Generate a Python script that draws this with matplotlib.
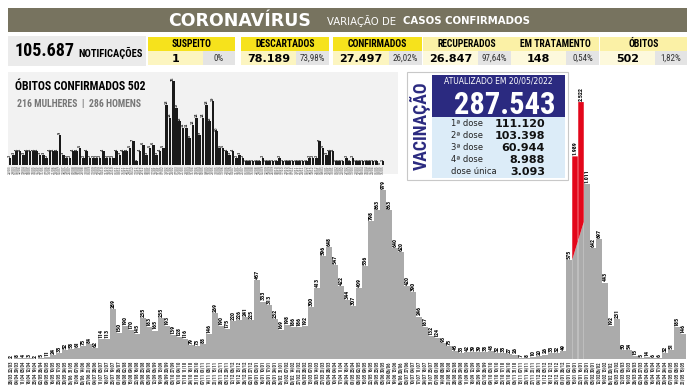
import numpy as np
import pandas as pd
import matplotlib
matplotlib.use("Agg")
import matplotlib.pyplot as plt
from matplotlib import font_manager as fm
from matplotlib.patches import Rectangle

W, H = 696, 385

# casos confirmados por semana
casos = [2, 8, 4, 3, 2, 5, 11, 24, 35, 52, 58, 61, 75, 84, 62, 114, 113,
         289, 150, 190, 170, 145, 235, 183, 165, 235, 193,
         139, 128, 116, 79, 73, 88, 146, 269, 190, 175, 220, 226, 241, 225,
         457, 333, 313, 232, 169, 198, 186, 186, 192, 300, 413, 596, 648,
         547, 422, 344, 307, 409, 536, 798, 863, 979, 863, 640, 620, 420,
         390, 246, 187, 132, 124, 95, 75, 45, 33, 42,
         39, 39, 38, 48, 32, 35, 27, 26, 7, 8, 10, 20, 26, 33, 32, 49,
         575, 1989, 2522, 1011, 642, 697, 443, 192, 231, 50, 54, 15, 5, 14,
         6, 6, 32, 51, 185, 146]

# obitos por semana
obitos = [2, 3, 4, 4, 3, 4, 4, 4, 4, 3, 3, 2, 4, 4, 4, 9, 3, 2, 2, 4,
          4, 5, 2, 4, 2, 2, 2, 2, 4, 2, 2, 2, 4, 3, 4, 4, 5, 7, 1, 4,
          6, 3, 5, 6, 3, 4, 5, 18, 14, 25, 17,
          13, 11, 11, 8, 12, 14, 9, 14, 18, 13, 19, 10, 5, 5, 4, 3, 4, 2, 3, 2,
          1, 1, 1, 1, 1, 2, 1, 1, 1, 1, 2, 1, 1, 1, 1, 1, 1, 1, 1, 2,
          2, 2, 7, 5, 3, 4, 4, 1, 1, 1, 2, 1, 2, 1, 1, 1, 1, 1, 1, 1, 0, 1]

inicio_semanas = "2020-03-22"

rotulos = ["SUSPEITO", "DESCARTADOS", "CONFIRMADOS", "RECUPERADOS", "EM TRATAMENTO", "ÓBITOS"]
numeros = ["1", "78.189", "27.497", "26.847", "148", "502"]
percentuais = ["0%", "73,98%", "26,02%", "97,64%", "0,54%", "1,82%"]

doses = ["1ª dose", "2ª dose", "3ª dose", "4ª dose", "dose única"]
doses_valor = ["111.120", "103.398", "60.944", "8.988", "3.093"]

CINZA = "#ababab"
VERMELHO = "#e3061a"
AZUL = "#2b2a80"
AZUL_CLARO = "#dcecf8"
OLIVA = "#77735f"
AMARELO = "#f6e21c"
AMARELO_CLARO = "#fbf1a6"
CREME = "#fcf5c0"
CINZA_CLARO = "#e4e4e4"
PAINEL = "#f2f2f2"

CORTE = 1500
ESCALA_QUEBRA = 0.59


def fonte_estreita():
    fontes = fm.fontManager.ttflist
    nomes = {f.name for f in fontes}
    for nome in ["Liberation Sans Narrow", "Roboto Condensed", "Open Sans Condensed",
                 "Noto Sans Condensed", "DejaVu Sans Condensed"]:
        if nome in nomes:
            return {"family": nome}
    for nome in ["Noto Sans", "DejaVu Sans", "Open Sans"]:
        for f in fontes:
            if f.name == nome and f.stretch in ("condensed", "extra-condensed", "semi-condensed"):
                return {"family": nome, "stretch": f.stretch}
    return {"family": "DejaVu Sans"}


NARROW = fonte_estreita()


def milhar(v):
    return f"{v:,}".replace(",", ".")


semanas = pd.date_range(inicio_semanas, periods=len(casos), freq="7D")

fig = plt.figure(figsize=(W / 100, H / 100), dpi=100)
fig.patch.set_facecolor("white")

# ---- grafico principal (casos) ----
X0, PASSO = 11, 6.0
BASE, TOPO = 359, 100
ax = fig.add_axes([0, (H - BASE) / H, 1, (BASE - TOPO) / H], zorder=0)
ax.set_xlim(-X0 / PASSO, (W - X0) / PASSO)
ax.set_ylim(0, CORTE)
ax.axis("off")

idx = np.arange(len(casos))
valores = np.array(casos, float)
alto = np.where(valores > CORTE, valores * ESCALA_QUEBRA, valores)
quebra = valores > CORTE

ax.bar(idx[~quebra], alto[~quebra], width=0.92, color=CINZA, lw=0)

qi = idx[quebra]
c0 = casos[qi[0] - 1]
c1 = (casos[qi[0] - 1] + casos[qi[-1] + 1]) / 2
for i in qi:
    xa, xb = i - 0.46, i + 0.46
    ya = np.interp(xa, [qi[0] - 0.46, qi[-1] + 0.46], [c0, c1])
    yb = np.interp(xb, [qi[0] - 0.46, qi[-1] + 0.46], [c0, c1])
    ax.fill([xa, xb, xb, xa], [0, 0, yb, ya], color=CINZA, lw=0)
    ax.fill([xa, xb, xb, xa], [ya, yb, alto[i], alto[i]], color=VERMELHO, lw=0)

for i, v in enumerate(casos):
    ax.text(i, alto[i] + 6, milhar(v), rotation=90, ha="center", va="bottom",
            fontsize=4.3, fontweight="bold", clip_on=False,
            bbox=dict(fc="white", ec="none", pad=0.3), **NARROW)

tx = ax.get_xaxis_transform()
altura_eixo = BASE - TOPO
for i, d in enumerate(semanas):
    fim = d + pd.Timedelta(days=6)
    ax.text(i, -2 / altura_eixo, d.strftime("%d/%m"), transform=tx, rotation=90,
            ha="center", va="top", fontsize=3.4, fontweight="bold", color="#333333",
            clip_on=False, **NARROW)
    ax.text(i, -14 / altura_eixo, fim.strftime("%d/%m"), transform=tx, rotation=90,
            ha="center", va="top", fontsize=3.4, fontweight="bold", color="#333333",
            clip_on=False, **NARROW)

# ---- camada de textos e caixas ----
ov = fig.add_axes([0, 0, 1, 1], zorder=1)
ov.set_xlim(0, W)
ov.set_ylim(H, 0)
ov.axis("off")

ov.add_patch(Rectangle((8, 8), 679, 24, color=OLIVA, lw=0))
ov.text(240, 20.5, "CORONAVÍRUS", color="white", fontsize=12.5, fontweight="bold",
        ha="center", va="center")
ov.text(327, 21, "VARIAÇÃO DE", color="white", fontsize=7.3, ha="left", va="center")
ov.text(403, 21, "CASOS CONFIRMADOS", color="white", fontsize=7.3, fontweight="bold",
        ha="left", va="center")

ov.add_patch(Rectangle((8, 36), 138, 30, color="#ebebeb", lw=0))
ov.text(15, 51.5, "105.687", fontsize=13, fontweight="bold", ha="left", va="center", **NARROW)
ov.text(78, 52.5, "NOTIFICAÇÕES", fontsize=7.6, fontweight="bold", ha="left", va="center", **NARROW)

caixa_x = [148, 241, 333, 423, 511, 600]
caixa_w = [87, 88, 89, 88, 88, 87]
for k in range(len(rotulos)):
    x0, w = caixa_x[k], caixa_w[k]
    cab = AMARELO if k < 3 else AMARELO_CLARO
    ov.add_patch(Rectangle((x0, 37), w, 13.5, color=cab, lw=0))
    ov.text(x0 + w / 2, 44, rotulos[k], fontsize=7, fontweight="bold",
            ha="center", va="center", **NARROW)
    wv = w * 0.63
    ov.add_patch(Rectangle((x0, 51), wv, 14, color=CREME if k < 3 else "#fdf9dc", lw=0))
    ov.add_patch(Rectangle((x0 + wv, 51), w - wv, 14, color=CINZA_CLARO, lw=0))
    ov.text(x0 + wv / 2, 58.5, numeros[k], fontsize=8, fontweight="bold",
            ha="center", va="center")
    ov.text(x0 + wv + (w - wv) / 2, 58.5, percentuais[k], fontsize=6.5,
            ha="center", va="center", color="#333333", **NARROW)

# painel de obitos
ov.add_patch(Rectangle((8, 72), 390, 102, color=PAINEL, lw=0))
ov.text(15, 87, "ÓBITOS CONFIRMADOS 502", fontsize=8.5, fontweight="bold",
        ha="left", va="center", **NARROW)
ov.text(17, 104, "216 MULHERES  |  286 HOMENS", fontsize=7, fontweight="bold",
        color="#777777", ha="left", va="center", **NARROW)

# vacinacao
ov.add_patch(Rectangle((407, 72), 161, 108, fc="white", ec="#c8c8c8", lw=0.8))
ov.add_patch(Rectangle((432, 75), 133, 42, color=AZUL, lw=0))
ov.add_patch(Rectangle((432, 117), 133, 61, color=AZUL_CLARO, lw=0))
ov.text(420, 126, "VACINAÇÃO", rotation=90, fontsize=12.8, fontweight="bold",
        color=AZUL, ha="center", va="center", **NARROW)
ov.text(498, 81, "ATUALIZADO EM 20/05/2022", color="white", fontsize=5.5,
        ha="center", va="center")
ov.text(505, 113.5, "287.543", color="white", fontsize=22, fontweight="bold",
        ha="center", va="baseline", **NARROW)
for k in range(len(doses)):
    y = 124 + k * 11.9
    ov.text(451, y, doses[k], fontsize=6, color="#222222", ha="left", va="center")
    ov.text(545, y, doses_valor[k], fontsize=8, fontweight="bold", color="#111111",
            ha="right", va="center")

# ---- grafico de obitos ----
OX0, OPASSO = 10, 3.33
OBASE, OTOPO = 164.5, 72
ax2 = fig.add_axes([0, (H - OBASE) / H, 1, (OBASE - OTOPO) / H], zorder=2)
ax2.set_xlim(-OX0 / OPASSO, (W - OX0) / OPASSO)
ax2.set_ylim(0, (OBASE - OTOPO) / 3.33)
ax2.axis("off")
oi = np.arange(len(obitos))
ax2.bar(oi, obitos, width=0.8, color="#1a1a1a", lw=0)
for i, v in enumerate(obitos):
    ax2.text(i, v + 0.2, str(v), rotation=90, ha="center", va="bottom",
             fontsize=2.3, fontweight="bold", color="#222222", clip_on=False)
tx2 = ax2.get_xaxis_transform()
oalt = OBASE - OTOPO
for i in range(len(obitos)):
    d = semanas[min(i, len(semanas) - 1)]
    ax2.text(i, -1 / oalt, d.strftime("%d/%m"), transform=tx2, rotation=90,
             ha="center", va="top", fontsize=2.2, color="#444444", clip_on=False)

fig.savefig("out.png", dpi=100, facecolor="white")
